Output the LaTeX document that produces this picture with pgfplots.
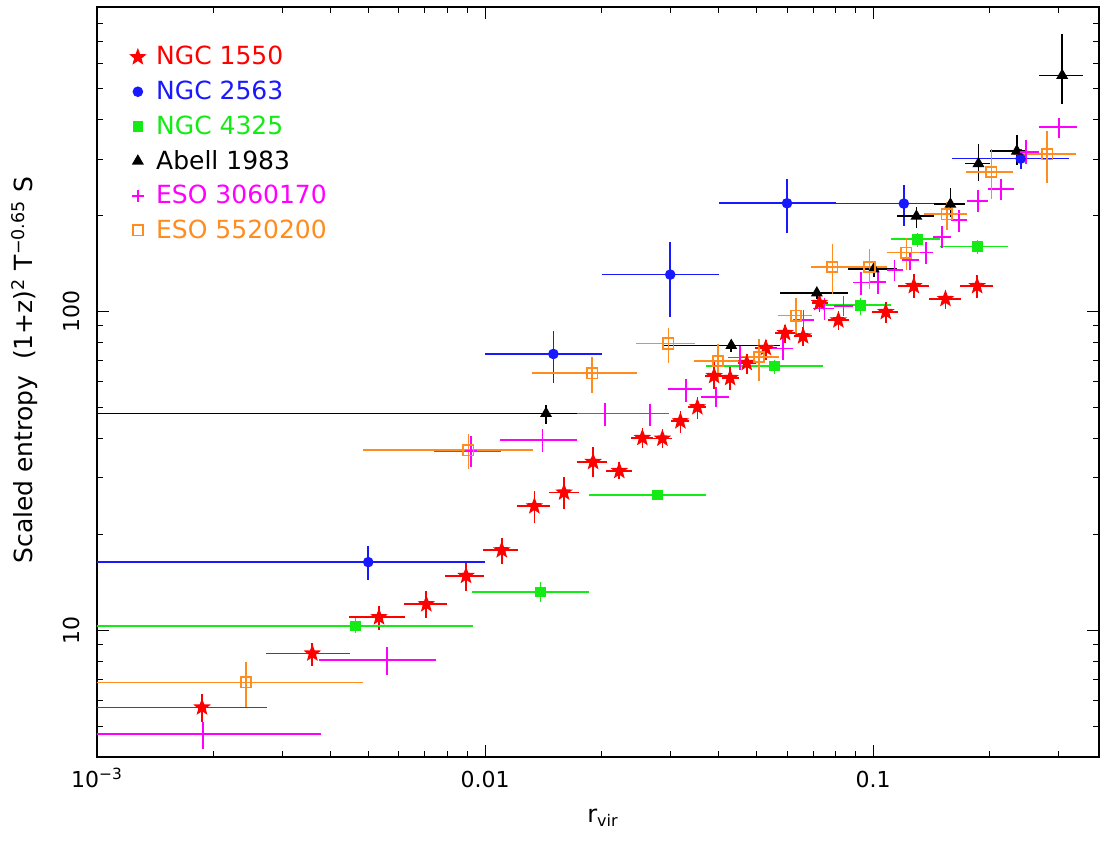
\documentclass[border=0pt]{standalone}
\usepackage{fontspec}
\setmainfont{DejaVu Sans}
\usepackage{pgfplots}
\usepackage{pgfplotstable}
\pgfplotsset{compat=1.18}

\definecolor{cred}{RGB}{255,0,0}
\definecolor{cblue}{RGB}{25,25,255}
\definecolor{cgreen}{RGB}{20,235,20}
\definecolor{cmag}{RGB}{255,0,255}
\definecolor{corange}{RGB}{255,140,30}

% filled five-pointed star
\pgfdeclareplotmark{fstar}{%
  \pgfpathmoveto{\pgfpointpolar{90}{\pgfplotmarksize}}%
  \pgfpathlineto{\pgfpointpolar{126}{0.42*\pgfplotmarksize}}%
  \pgfpathlineto{\pgfpointpolar{162}{\pgfplotmarksize}}%
  \pgfpathlineto{\pgfpointpolar{198}{0.42*\pgfplotmarksize}}%
  \pgfpathlineto{\pgfpointpolar{234}{\pgfplotmarksize}}%
  \pgfpathlineto{\pgfpointpolar{270}{0.42*\pgfplotmarksize}}%
  \pgfpathlineto{\pgfpointpolar{306}{\pgfplotmarksize}}%
  \pgfpathlineto{\pgfpointpolar{342}{0.42*\pgfplotmarksize}}%
  \pgfpathlineto{\pgfpointpolar{18}{\pgfplotmarksize}}%
  \pgfpathlineto{\pgfpointpolar{54}{0.42*\pgfplotmarksize}}%
  \pgfpathclose
  \pgfusepathqfillstroke
}

% columns: bin centre, entropy, bin edges, entropy lower/upper limits
\pgfplotstableread{
x y xlo xhi ylo yhi
0.001865 5.724 0.00095 0.002737 5.149 6.301
0.003589 8.453 0.00273 0.00448 7.729 9.106
0.005330 10.98 0.004455 0.006209 10.00 11.89
0.007058 12.06 0.006183 0.007964 10.90 13.25
0.008933 14.80 0.007887 0.009940 13.28 16.26
0.01104 17.81 0.009899 0.01218 16.07 19.52
0.01340 24.47 0.01209 0.01471 21.60 27.28
0.01598 27.02 0.01462 0.01744 23.95 30.17
0.01899 33.71 0.01727 0.02063 30.17 37.48
0.02218 31.58 0.02051 0.02393 29.75 33.63
0.02543 40.07 0.02378 0.02710 37.12 43.06
0.02864 39.90 0.02705 0.03039 37.20 42.66
0.03187 45.21 0.03016 0.03361 41.55 48.59
0.03525 50.02 0.03342 0.03705 45.86 53.74
0.03893 62.68 0.03690 0.04113 57.23 69.20
0.04280 61.78 0.04074 0.04514 56.82 66.89
0.04725 68.86 0.04480 0.04994 63.45 73.67
0.05290 76.74 0.04964 0.05647 70.22 81.53
0.05932 85.50 0.05600 0.06295 79.55 90.85
0.06601 83.48 0.06255 0.06976 77.85 89.29
0.07271 106.2 0.06950 0.07669 99.5 113.6
0.08138 93.71 0.07641 0.08672 87.18 100.0
0.1078 99.5 0.09959 0.1162 91.9 106.9
0.1273 120.0 0.1158 0.1394 110.1 130.6
0.1536 109.3 0.1392 0.1683 102.0 117.0
0.1854 120.0 0.1676 0.2035 110.1 129.7
}\ngcA

\pgfplotstableread{
x y xlo xhi ylo yhi
0.005 16.34 0.0008 0.01 14.35 18.38
0.015 73.46 0.01 0.02 59.76 86.99
0.03 130.3 0.02 0.04 95.96 164.6
0.06 218.1 0.04 0.08 176.5 259.3
0.12 217.6 0.08 0.16 185.1 248.3
0.24 301.1 0.16 0.32 278.7 323.6
}\ngcB

\pgfplotstableread{
x y xlo xhi ylo yhi
0.004632 10.31 0.0008 0.009297 9.765 10.90
0.0139 13.18 0.00927 0.0185 12.27 14.11
0.0278 26.50 0.0185 0.0371 25.56 27.28
0.05566 67.23 0.0371 0.0743 63.77 70.58
0.0928 104.4 0.0743 0.1114 97.65 109.9
0.1301 168.1 0.1114 0.1486 159.1 176.5
0.1857 159.5 0.1486 0.2230 151.7 167.8
}\ngcC

\pgfplotstableread{
x y xlo xhi ylo yhi
0.01436 47.78 0.0008 0.0287 44.46 50.73
0.0431 78.08 0.0287 0.0575 74.55 81.12
0.0716 114.1 0.0575 0.0862 109.6 118.1
0.1004 135.7 0.0862 0.1149 128.1 142.7
0.1293 198.6 0.1149 0.1436 182.4 212.3
0.1582 216.5 0.1436 0.1723 197.6 244.2
0.1868 290.4 0.1723 0.2001 255.6 333.9
0.2346 318.0 0.2001 0.2489 287.0 356.2
0.3070 549.3 0.2677 0.3471 445.6 742.3
}\abell

\pgfplotstableread{
x y xlo xhi ylo yhi
0.001873 4.721 0.0008 0.003772 4.236 5.160
0.005591 8.05 0.00374 0.007464 7.244 8.862
0.00919 36.49 0.0074 0.01098 32.51 40.57
0.01405 39.51 0.01093 0.0173 36.23 42.87
0.02039 47.78 0.0173 0.02354 43.69 51.73
0.02662 47.78 0.02354 0.02985 43.69 51.36
0.03291 56.94 0.02968 0.03618 51.95 61.52
0.03933 53.74 0.03597 0.04256 49.91 57.89
0.04542 71.6 0.04222 0.04868 65.63 77.68
0.05852 76.40 0.05482 0.06231 70.58 84.08
0.06613 93.71 0.06231 0.07058 85.13 100.7
0.07489 102.0 0.07017 0.07951 93.71 110.1
0.08385 103.9 0.0794 0.08866 96.45 111.8
0.09314 123.0 0.0886 0.09824 112.2 132.8
0.1028 123.6 0.09824 0.1082 113.6 133.2
0.1135 134.5 0.1085 0.1193 124.2 145.3
0.1246 144.5 0.1185 0.1309 135.1 153.4
0.1367 152.8 0.1309 0.1430 141.1 164.9
0.1504 171.0 0.1426 0.1586 158.4 185.1
0.1666 192.9 0.1586 0.1750 177.3 207.3
0.1862 221.7 0.1750 0.1975 204.8 239.5
0.2134 241.2 0.1975 0.2309 222.8 259.3
0.2474 315.7 0.2309 0.2677 290.4 343.6
0.3016 377.5 0.2677 0.3350 350.4 404.8
}\esoA

\pgfplotstableread{
x y xlo xhi ylo yhi
0.002421 6.855 0.0008 0.004857 5.748 7.921
0.009057 36.67 0.00484 0.01327 31.97 41.36
0.0189 63.9 0.01324 0.0246 55.45 71.91
0.02968 79.22 0.0245 0.03477 68.86 88.9
0.03986 69.72 0.03462 0.04569 61.08 79.22
0.05083 71.91 0.04569 0.05725 60.46 82.12
0.06329 96.94 0.05702 0.06976 84.08 110.4
0.07853 137.7 0.06921 0.08813 113.6 163.0
0.09784 137.7 0.08813 0.1085 117.8 157.3
0.1218 152.8 0.1085 0.1400 135.1 170.2
0.1548 201.5 0.1356 0.1744 179.4 220.1
0.2017 273.4 0.1737 0.2299 224.4 322.0
0.2809 310.6 0.2299 0.3330 252.5 367.5
}\esoB

\pgfplotsset{
  % one galaxy group: marks with bin-width and entropy error bars, all in colour #1
  binned/.style={
    only marks,
    color=#1,
    mark options={draw=#1, line width=0.85pt},
    legend image code/.code={%
      \path (0cm,0cm) (0.58cm,0cm);
      \draw[##1] plot coordinates {(0.3cm,0cm)};},
    error bars/x dir=both, error bars/x explicit,
    error bars/y dir=both, error bars/y explicit,
    error bars/error mark=none,
    error bars/error bar style={line width=0.85pt, draw=#1}
  },
  % error bars span the bin edges and the entropy limits
  table/binerr/.style={x=x, y=y,
    x error plus expr=\thisrow{xhi}-\thisrow{x},
    x error minus expr=\thisrow{x}-\thisrow{xlo},
    y error plus expr=\thisrow{yhi}-\thisrow{y},
    y error minus expr=\thisrow{y}-\thisrow{ylo}},
}

\begin{document}
\begin{tikzpicture}
\begin{axis}[
  scale only axis,
  width=501pt, height=375pt,
  xmode=log, ymode=log,
  xmin=0.001, xmax=0.382,
  ymin=4, ymax=900,
  xtick={0.001,0.01,0.1},
  xticklabels={10\textsuperscript{−3},0.01,0.1},
  minor xtick={0.002,0.003,0.004,0.005,0.006,0.007,0.008,0.009,
    0.02,0.03,0.04,0.05,0.06,0.07,0.08,0.09,0.2,0.3},
  ytick={10,100},
  yticklabels={10,100},
  minor ytick={5,6,7,8,9,20,30,40,50,60,70,80,90,200,300,400,500,600,700,800},
  major tick length=6pt, minor tick length=3pt,
  tick style={line width=0.5pt, black},
  axis line style={line width=0.7pt},
  tick label style={font=\fontsize{11}{13}\selectfont},
  xticklabel style={anchor=base},
  xticklabel shift=15pt,
  yticklabel style={xshift=-8.5pt, rotate=90, anchor=base},
  xlabel={r\textsubscript{vir}},
  xlabel style={font=\fontsize{12}{14}\selectfont,
    at={(axis description cs:0.505,-0.088)}, anchor=base},
  ylabel={Scaled entropy\hspace{0.318em} (1+z)\textsuperscript{2} T\textsuperscript{−0.65} S},
  ylabel style={font=\fontsize{12.5}{15}\selectfont,
    at={(axis description cs:-0.0639,0.516)}, anchor=base},
  legend style={at={(axis description cs:0,1)}, anchor=north west,
    xshift=8.5pt, yshift=-16.5pt, draw=none, fill=none,
    font=\fontsize{12.5}{15}\selectfont, row sep=4.5pt,
    nodes={inner sep=1pt}},
  legend cell align=left,
]

\addplot[binned=cred, mark=fstar, mark size=3.4pt] table[binerr]{\ngcA};
\addlegendentry{\textcolor{cred}{NGC 1550}}

\addplot[binned=cblue, mark=*, mark size=2.2pt] table[binerr]{\ngcB};
\addlegendentry{\textcolor{cblue}{NGC 2563}}

\addplot[binned=cgreen, mark=square*, mark size=2.2pt] table[binerr]{\ngcC};
\addlegendentry{\textcolor{cgreen}{NGC 4325}}

\addplot[binned=black, mark=triangle*, mark size=2.6pt] table[binerr]{\abell};
\addlegendentry{\textcolor{black}{Abell 1983}}

\addplot[binned=cmag, mark=+, mark size=3pt] table[binerr]{\esoA};
\addlegendentry{\textcolor{cmag}{ESO 3060170}}

\addplot[binned=corange, mark=square, mark size=2.6pt] table[binerr]{\esoB};
\addlegendentry{\textcolor{corange}{ESO 5520200}}

\end{axis}
% reserve the outer margins of the figure
\path (current axis.south west) +(-48.5pt,-41.5pt);
\path (current axis.north east) +(1pt,3.5pt);
\end{tikzpicture}
\end{document}
